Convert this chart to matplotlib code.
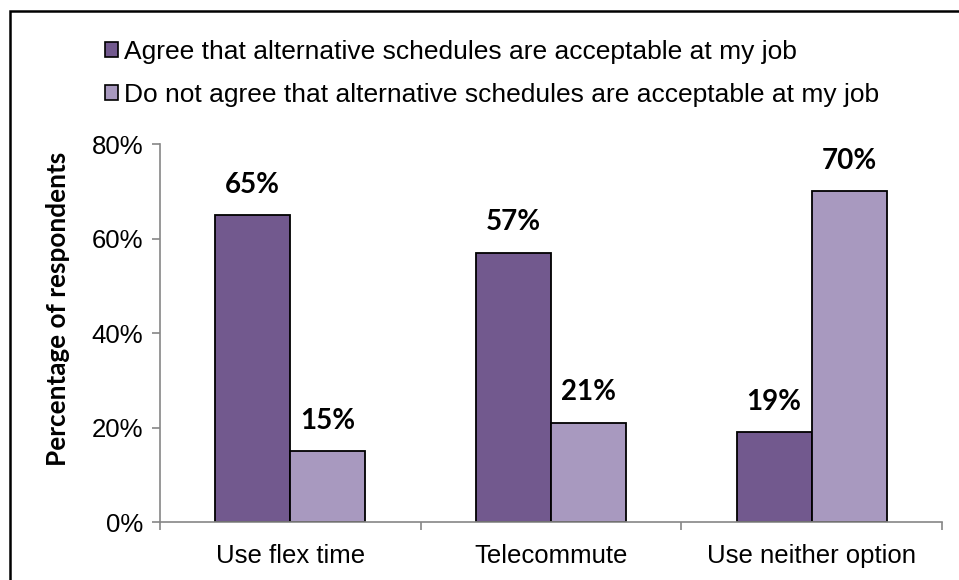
import numpy as np
import matplotlib.pyplot as plt
from matplotlib.patches import Rectangle, Patch
from matplotlib.ticker import FuncFormatter

# datos del grafico
categorias = ['Use flex time', 'Telecommute', 'Use neither option']
agree = [65, 57, 19]
no_agree = [15, 21, 70]
series = ['Agree that alternative schedules are acceptable at my job',
          'Do not agree that alternative schedules are acceptable at my job']
colores = ['#72598E', '#A899BF']

plt.rcParams['font.family'] = ['Liberation Sans', 'DejaVu Sans']

fig = plt.figure(figsize=(9.59, 5.8), dpi=100)
ax = fig.add_axes([160/959, 0.1, (942-160)/959, 0.6517])

x = np.arange(len(categorias))
w = 0.288
r1 = ax.bar(x - w/2, agree, w, color=colores[0], edgecolor='black', linewidth=1.3)
r2 = ax.bar(x + w/2, no_agree, w, color=colores[1], edgecolor='black', linewidth=1.3)

for rects in (r1, r2):
    for r in rects:
        ax.annotate('{0}%'.format(int(r.get_height())),
                    (r.get_x() + r.get_width()/2, r.get_height()),
                    xytext=(0, 12.5), textcoords='offset points',
                    ha='center', va='bottom', fontsize=20, fontweight='bold',
                    family=['Lato', 'DejaVu Sans'])

ax.set_xlim(-0.5, len(categorias) - 0.5)
ax.set_ylim(0, 80)
ax.set_yticks([0, 20, 40, 60, 80])
ax.yaxis.set_major_formatter(FuncFormatter(lambda v, p: '{0}%'.format(int(v))))
ax.set_xticks(x)
ax.set_xticklabels(categorias)
ax.set_xticks(np.arange(len(categorias) + 1) - 0.5, minor=True)
ax.tick_params(axis='x', which='major', length=0, pad=16, labelsize=18.5)
ax.tick_params(axis='x', which='minor', length=6, color='#868686', width=1.2)
ax.tick_params(axis='y', length=6, color='#868686', width=1.2, labelsize=18.5, pad=6)

for s in ['top', 'right']:
    ax.spines[s].set_visible(False)
for s in ['left', 'bottom']:
    ax.spines[s].set_color('#868686')
    ax.spines[s].set_linewidth(1.2)

ax.set_ylabel('Percentage of respondents', fontsize=18.8, fontweight='bold',
              family=['Lato', 'DejaVu Sans'])
ax.yaxis.set_label_coords(-0.115, 0.563)

handles = [Patch(facecolor=c, edgecolor='black', linewidth=1.2) for c in colores]
fig.legend(handles, series, loc='upper left', bbox_to_anchor=(0.098, 0.95),
           frameon=False, fontsize=19, handlelength=0.5, handleheight=0.5,
           handletextpad=0.23, labelspacing=0.74, borderaxespad=0)

# marco exterior
fig.add_artist(Rectangle((10/959, -0.1), 1.2, 1.1 - 11/580,
                         transform=fig.transFigure, fill=False,
                         edgecolor='black', linewidth=1.8))

fig.savefig('out.png', dpi=100)
